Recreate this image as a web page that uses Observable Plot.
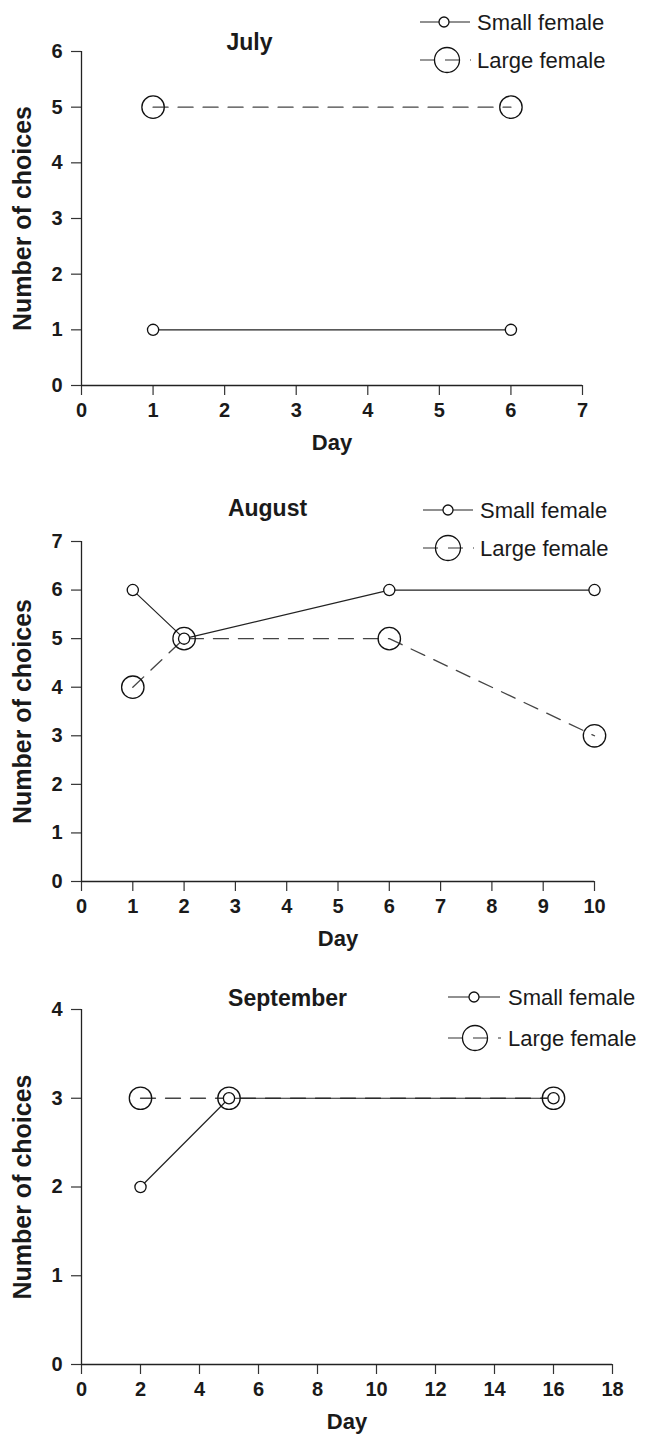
<!DOCTYPE html>
<html>
<head>
<meta charset="utf-8">
<script src="https://cdn.jsdelivr.net/npm/d3@7"></script>
<script src="https://cdn.jsdelivr.net/npm/@observablehq/plot@0.6"></script>
<style>
  body { margin: 0; background: #fff; }
  #chart > svg { display: block; }
</style>
</head>
<body>
<div id="chart"></div>
<script>
// ---------- data ----------
const seriesNames = ["Small female", "Large female"];
const months = ["July", "August", "September"];

const julyDays  = [1, 6];
const julySmall = [1, 1];
const julyLarge = [5, 5];

const augDays  = [1, 2, 6, 10];
const augSmall = [6, 5, 6, 6];
const augLarge = [4, 5, 5, 3];

const sepDays  = [2, 5, 16];
const sepSmall = [2, 3, 3];
const sepLarge = [3, 3, 3];

const julyXTicks = [0, 1, 2, 3, 4, 5, 6, 7];
const augXTicks  = [0, 1, 2, 3, 4, 5, 6, 7, 8, 9, 10];
const sepXTicks  = [0, 2, 4, 6, 8, 10, 12, 14, 16, 18];
const julyYTicks = [0, 1, 2, 3, 4, 5, 6];
const augYTicks  = [0, 1, 2, 3, 4, 5, 6, 7];
const sepYTicks  = [0, 1, 2, 3, 4];

const xLabel = "Day";
const yLabel = "Number of choices";

// ---------- layout ----------
const panels = [
  {title: months[0], days: julyDays, small: julySmall, large: julyLarge, xTicks: julyXTicks, yTicks: julyYTicks,
   layout: {height: 470, mt: 51, mb: 85, mr: 70, titleX: 249, titleY: 42,
            leg: {x1: 420, x2: 470, cs: 444, cl: 447, tx: 477, ys: 22, yl: 60}}},
  {title: months[1], days: augDays, small: augSmall, large: augLarge, xTicks: augXTicks, yTicks: augYTicks,
   layout: {height: 490, mt: 71, mb: 79, mr: 58, titleX: 267, titleY: 38,
            leg: {x1: 423, x2: 473, cs: 448, cl: 448, tx: 480, ys: 40, yl: 78}}},
  {title: months[2], days: sepDays, small: sepSmall, large: sepLarge, xTicks: sepXTicks, yTicks: sepYTicks,
   layout: {height: 477, mt: 49, mb: 73, mr: 40, titleX: 287, titleY: 38,
            leg: {x1: 448, x2: 500, cs: 474, cl: 475, tx: 508, ys: 37, yl: 78}}}
];

const FONT = "'Liberation Sans', Arial, Helvetica, sans-serif";
const INK = "#1a1a1a";

function legendMark(L) {
  return () => {
    const g = d3.create("svg:g").attr("font-family", FONT).attr("text-anchor", "start");
    // small female
    g.append("line").attr("x1", L.x1).attr("x2", L.x2).attr("y1", L.ys).attr("y2", L.ys)
      .attr("stroke", "#222").attr("stroke-width", 1.2);
    g.append("circle").attr("cx", L.cs).attr("cy", L.ys).attr("r", 5)
      .attr("fill", "#fff").attr("stroke", "#111").attr("stroke-width", 1.3);
    g.append("text").attr("x", L.tx).attr("y", L.ys).attr("dy", "0.35em")
      .attr("font-size", 22).attr("fill", INK).attr("text-anchor", "start").text(seriesNames[0]);
    // large female
    g.append("line").attr("x1", L.x1).attr("x2", L.x2 + 1).attr("y1", L.yl).attr("y2", L.yl)
      .attr("stroke", "#333").attr("stroke-width", 1.2).attr("stroke-dasharray", "15,10");
    g.append("circle").attr("cx", L.cl).attr("cy", L.yl).attr("r", 12.5)
      .attr("fill", "none").attr("stroke", "#111").attr("stroke-width", 1.3);
    g.append("text").attr("x", L.tx).attr("y", L.yl).attr("dy", "0.35em")
      .attr("font-size", 22).attr("fill", INK).attr("text-anchor", "start").text(seriesNames[1]);
    return g.node();
  };
}

const chart = document.getElementById("chart");

for (const p of panels) {
  const L = p.layout;
  const smallData = p.days.map((d, i) => ({day: d, n: p.small[i]}));
  const largeData = p.days.map((d, i) => ({day: d, n: p.large[i]}));
  const plot = Plot.plot({
    width: 652,
    height: L.height,
    marginLeft: 81,
    marginRight: L.mr,
    marginTop: L.mt,
    marginBottom: L.mb,
    x: {domain: [0, d3.max(p.xTicks)]},
    y: {domain: [0, d3.max(p.yTicks)]},
    style: {fontFamily: FONT, background: "#fff", color: INK, overflow: "visible"},
    marks: [
      Plot.axisX({ticks: p.xTicks, tickSize: 10, tickPadding: 7, fontSize: 20, fontWeight: "bold",
                  label: null, stroke: "#333", strokeWidth: 1.2, tickFormat: d => String(d)}),
      Plot.axisY({ticks: p.yTicks, tickSize: 10, tickPadding: 9, fontSize: 20, fontWeight: "bold",
                  label: null, stroke: "#333", strokeWidth: 1.2, tickFormat: d => String(d)}),
      Plot.ruleY([0], {stroke: "#222", strokeWidth: 1.3}),
      Plot.ruleX([0], {stroke: "#222", strokeWidth: 1.3}),
      Plot.line(largeData, {x: "day", y: "n", stroke: "#444", strokeWidth: 1.3, strokeDasharray: "15,10"}),
      Plot.line(smallData, {x: "day", y: "n", stroke: "#222", strokeWidth: 1.2}),
      Plot.dot(largeData, {x: "day", y: "n", r: 11.2, fill: "none", stroke: "#111", strokeWidth: 1.3}),
      Plot.dot(smallData, {x: "day", y: "n", r: 5.6, fill: "#fff", stroke: "#111", strokeWidth: 1.3}),
      Plot.text([p.title], {text: d => d, frameAnchor: "top-left", dx: L.titleX - 81, dy: L.titleY - L.mt,
                            fontSize: 23, fontWeight: "bold", fill: INK, textAnchor: "middle", lineAnchor: "middle"}),
      Plot.text([xLabel], {text: d => d, frameAnchor: "bottom", dy: 57, fontSize: 22, fontWeight: "bold",
                           fill: INK, lineAnchor: "middle"}),
      Plot.text([yLabel], {text: d => d, frameAnchor: "left", dx: -59, rotate: -90, fontSize: 25,
                           fontWeight: "bold", fill: INK, textAnchor: "middle", lineAnchor: "middle"}),
      legendMark(L.leg)
    ]
  });
  chart.appendChild(plot);
}
</script>
</body>
</html>
